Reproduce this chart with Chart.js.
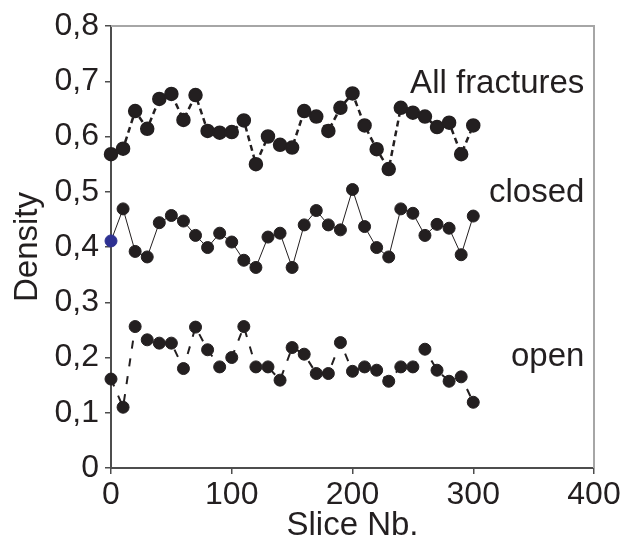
<!DOCTYPE html>
<html>
<head>
<meta charset="utf-8">
<script src="https://cdn.jsdelivr.net/npm/chart.js@4"></script>
<style>
  body { margin: 0; background: #fff; }
  #wrap { width: 626px; height: 544px; }
</style>
</head>
<body>
<div id="wrap"><canvas id="densityChart"></canvas></div>
<script>
// slice numbers
const slices = [0, 10, 20, 30, 40, 50, 60, 70, 80, 90, 100, 110, 120, 130, 140, 150,
  160, 170, 180, 190, 200, 210, 220, 230, 240, 250, 260, 270, 280, 290, 300];

const allFractures = [0.568, 0.578, 0.646, 0.614, 0.668, 0.677, 0.630, 0.675, 0.610, 0.607, 0.608,
  0.629, 0.550, 0.600, 0.585, 0.580, 0.646, 0.636, 0.610, 0.652, 0.678, 0.620, 0.577, 0.541,
  0.652, 0.643, 0.636, 0.617, 0.625, 0.568, 0.620];

const closed = [0.411, 0.469, 0.392, 0.382, 0.444, 0.457, 0.447, 0.421, 0.399, 0.425, 0.409,
  0.376, 0.363, 0.418, 0.425, 0.363, 0.440, 0.466, 0.440, 0.431, 0.504, 0.437, 0.399, 0.382,
  0.469, 0.461, 0.421, 0.441, 0.434, 0.386, 0.456];

const open = [0.161, 0.110, 0.256, 0.232, 0.226, 0.226, 0.180, 0.255, 0.214, 0.183, 0.200,
  0.256, 0.183, 0.183, 0.159, 0.218, 0.206, 0.171, 0.171, 0.227, 0.175, 0.183, 0.177, 0.157,
  0.183, 0.183, 0.215, 0.177, 0.157, 0.165, 0.119];

const seriesNames = ['All fractures', 'closed', 'open'];
const yTickLabels = ['0', '0,1', '0,2', '0,3', '0,4', '0,5', '0,6', '0,7', '0,8'];
const xTickLabels = ['0', '100', '200', '300', '400'];

const FONT = "'Liberation Sans', Arial, sans-serif";
const INK = '#231f20';

function toPoints(values) {
  return values.map((v, i) => ({ x: slices[i], y: v }));
}

// frame (top/right) + series labels
const decorations = {
  id: 'decorations',
  afterDraw(chart) {
    const { ctx, chartArea: a, scales } = chart;
    ctx.save();
    ctx.strokeStyle = '#a6a6a6';
    ctx.lineWidth = 2;
    ctx.beginPath();
    ctx.moveTo(a.left, a.top);
    ctx.lineTo(a.right, a.top);
    ctx.lineTo(a.right, a.bottom);
    ctx.stroke();

    ctx.fillStyle = INK;
    ctx.font = '33px ' + FONT;
    ctx.textAlign = 'right';
    ctx.textBaseline = 'middle';
    const labelY = [0.695, 0.498, 0.201];
    const xr = scales.x.getPixelForValue(392);
    seriesNames.forEach((name, i) => {
      ctx.fillText(name, xr, scales.y.getPixelForValue(labelY[i]));
    });
    ctx.restore();
  }
};

new Chart(document.getElementById('densityChart'), {
  type: 'line',
  data: {
    datasets: [
      {
        label: seriesNames[0],
        data: toPoints(allFractures),
        borderColor: INK,
        borderWidth: 2.5,
        borderDash: [6, 4],
        pointRadius: 6.5,
        pointBackgroundColor: INK,
        pointBorderColor: INK,
        pointBorderWidth: 1.5,
        clip: false
      },
      {
        label: seriesNames[1],
        data: toPoints(closed),
        borderColor: INK,
        borderWidth: 1,
        pointRadius: 6,
        pointBackgroundColor: closed.map((v, i) => i === 0 ? '#2e3192' : INK),
        pointBorderColor: closed.map((v, i) => i === 0 ? '#2e3192' : INK),
        pointBorderWidth: 1,
        clip: false
      },
      {
        label: seriesNames[2],
        data: toPoints(open),
        borderColor: INK,
        borderWidth: 2,
        borderDash: [8, 10],
        pointRadius: 6,
        pointBackgroundColor: INK,
        pointBorderColor: INK,
        pointBorderWidth: 1,
        clip: false
      }
    ]
  },
  options: {
    responsive: true,
    maintainAspectRatio: false,
    animation: false,
    layout: { padding: { top: 26, right: 32, left: 0, bottom: 0 } },
    plugins: {
      legend: { display: false },
      tooltip: { enabled: false }
    },
    scales: {
      x: {
        type: 'linear',
        min: 0,
        max: 400,
        afterFit: (scale) => { scale.height = 76; },
        ticks: {
          stepSize: 100,
          color: INK,
          padding: 2,
          maxRotation: 0,
          font: { family: FONT, size: 32 },
          callback: (v, i) => xTickLabels[i]
        },
        grid: { drawOnChartArea: false, tickLength: 6, color: '#4d4d4d', lineWidth: 1.5 },
        border: { color: '#4d4d4d', width: 2 },
        title: {
          display: true,
          text: 'Slice Nb.',
          color: INK,
          font: { family: FONT, size: 33 },
          padding: { top: 0, bottom: -2 }
        }
      },
      y: {
        min: 0,
        max: 0.8,
        afterFit: (scale) => { scale.width = 111; },
        ticks: {
          stepSize: 0.1,
          color: INK,
          padding: 6,
          font: { family: FONT, size: 32 },
          callback: (v, i) => yTickLabels[i]
        },
        grid: { drawOnChartArea: false, tickLength: 6, color: '#4d4d4d', lineWidth: 1.5 },
        border: { color: '#4d4d4d', width: 2 },
        title: {
          display: true,
          text: 'Density',
          color: INK,
          font: { family: FONT, size: 33 },
          padding: { top: 8, bottom: 0 }
        }
      }
    }
  },
  plugins: [decorations]
});
</script>
</body>
</html>
